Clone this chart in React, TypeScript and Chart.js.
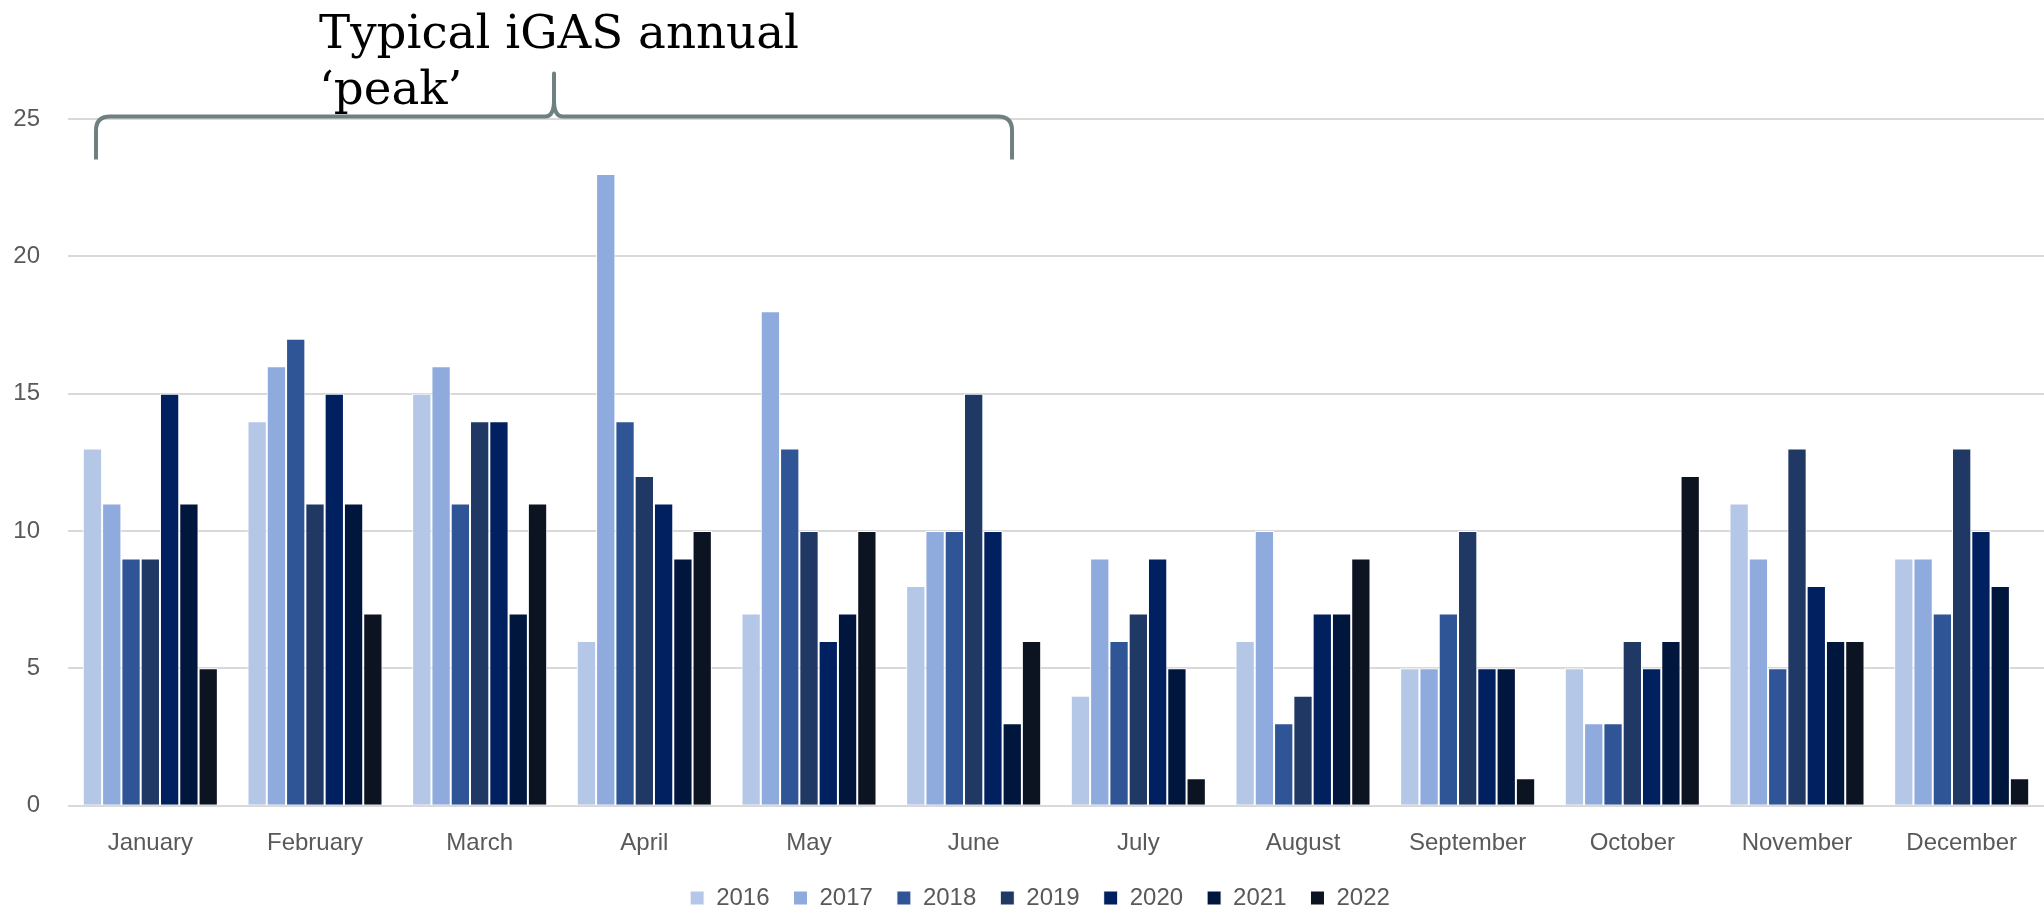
import React, { useEffect, useRef } from 'react';
import { Chart, registerables } from 'chart.js';

Chart.register(...registerables);

const months = ['January', 'February', 'March', 'April', 'May', 'June', 'July', 'August', 'September', 'October', 'November', 'December'];
const years = ['2016', '2017', '2018', '2019', '2020', '2021', '2022'];
const yearColors = ['#b4c7e7', '#8faadc', '#2f5597', '#1f3864', '#002060', '#00163d', '#0c1321'];

const v2016 = [13, 14, 15, 6, 7, 8, 4, 6, 5, 5, 11, 9];
const v2017 = [11, 16, 16, 23, 18, 10, 9, 10, 5, 3, 9, 9];
const v2018 = [9, 17, 11, 14, 13, 10, 6, 3, 7, 3, 5, 7];
const v2019 = [9, 11, 14, 12, 10, 15, 7, 4, 10, 6, 13, 13];
const v2020 = [15, 15, 14, 11, 6, 10, 9, 7, 5, 5, 8, 10];
const v2021 = [11, 11, 7, 9, 7, 3, 5, 7, 5, 6, 6, 8];
const v2022 = [5, 7, 11, 10, 10, 6, 1, 9, 1, 12, 6, 1];

const seriesValues = [v2016, v2017, v2018, v2019, v2020, v2021, v2022];

const yTicks = [0, 5, 10, 15, 20, 25];

const annotationLines = ['Typical iGAS annual', '\u2018peak\u2019'];
const peakStartMonth = 0;
const peakEndMonth = 5;

const W = 2044;
const H = 911;
const AXIS_FONT = { family: '"Liberation Sans", Arial, sans-serif', size: 24 };
const AXIS_COLOR = '#595959';

const legendShiftPlugin = {
  id: 'legendShift',
  afterLayout(chart: any) {
    const lg = chart.legend;
    if (lg) {
      lg.left += 18;
      lg.right += 18;
    }
  },
};

const bracePlugin = {
  id: 'iGasBrace',
  afterDraw(chart: any) {
    const { ctx, scales } = chart;
    const x = scales.x;
    const y = scales.y;
    const cw = x.getPixelForValue(1) - x.getPixelForValue(0);
    const L = x.getPixelForValue(peakStartMonth) - 0.33 * cw;
    const R = x.getPixelForValue(peakEndMonth) + 0.233 * cw;
    const M = (L + R) / 2;
    const top = y.getPixelForValue(yTicks[yTicks.length - 1]) - 2.5;
    const bottom = top + 43;
    const tip = top - 43;
    const r = 14;
    ctx.save();
    ctx.strokeStyle = '#6e8080';
    ctx.lineWidth = 4;
    ctx.lineJoin = 'round';
    ctx.beginPath();
    ctx.moveTo(L, bottom);
    ctx.lineTo(L, top + r);
    ctx.quadraticCurveTo(L, top, L + r, top);
    ctx.lineTo(M - 9, top);
    ctx.quadraticCurveTo(M, top, M, top - 16);
    ctx.lineTo(M, tip);
    ctx.lineTo(M, top - 16);
    ctx.quadraticCurveTo(M, top, M + 9, top);
    ctx.lineTo(R - r, top);
    ctx.quadraticCurveTo(R, top, R, top + r);
    ctx.lineTo(R, bottom);
    ctx.stroke();

    ctx.fillStyle = '#000000';
    ctx.font = '47px "DejaVu Serif", serif';
    ctx.textAlign = 'left';
    ctx.textBaseline = 'alphabetic';
    const targetW = 480;
    const mw = ctx.measureText(annotationLines[0]).width || targetW;
    const sx = targetW / mw;
    ctx.translate(319, 0);
    ctx.scale(sx, 1);
    ctx.fillText(annotationLines[0], 0, 48);
    ctx.fillText(annotationLines[1], 0, 104);
    ctx.restore();
  },
};

export default function App() {
  const canvasRef = useRef<HTMLCanvasElement | null>(null);

  useEffect(() => {
    if (!canvasRef.current) return;
    const chart = new Chart(canvasRef.current, {
      type: 'bar',
      data: {
        labels: months,
        datasets: years.map((yr, i) => ({
          label: yr,
          data: seriesValues[i],
          backgroundColor: yearColors[i],
          borderColor: '#ffffff',
          borderWidth: 1,
          borderSkipped: 'start',
          categoryPercentage: 0.82,
          barPercentage: 1,
        })),
      },
      options: {
        animation: false,
        responsive: false,
        maintainAspectRatio: false,
        devicePixelRatio: 1,
        layout: { padding: { top: 119, left: 0, right: 0, bottom: -9 } },
        scales: {
          x: {
            grid: { display: false, drawTicks: false },
            border: { display: false },
            ticks: { color: AXIS_COLOR, font: AXIS_FONT, padding: 23, maxRotation: 0, autoSkip: false },
            afterFit: (s: any) => {
              const lg = s.chart.legend;
              const lh = lg ? lg.height : 0;
              s.height = H + 9 - lh - 805.7;
            },
          },
          y: {
            min: 0,
            max: 25,
            ticks: { stepSize: 5, color: AXIS_COLOR, font: AXIS_FONT, padding: 28 },
            grid: { color: '#d9d9d9', lineWidth: 2, drawTicks: false },
            border: { display: false },
            afterFit: (s: any) => {
              s.width = 68;
            },
          },
        },
        plugins: {
          legend: {
            position: 'bottom',
            labels: { boxWidth: 14, boxHeight: 14, padding: 24, font: AXIS_FONT, color: AXIS_COLOR },
          },
          tooltip: { enabled: false },
        },
      },
      plugins: [legendShiftPlugin, bracePlugin],
    } as any);
    return () => chart.destroy();
  }, []);

  return (
    <div style={{ position: 'absolute', left: 0, top: 0, width: W, height: H, background: '#ffffff' }}>
      <canvas ref={canvasRef} width={W} height={H} style={{ width: W, height: H, display: 'block' }} />
    </div>
  );
}
